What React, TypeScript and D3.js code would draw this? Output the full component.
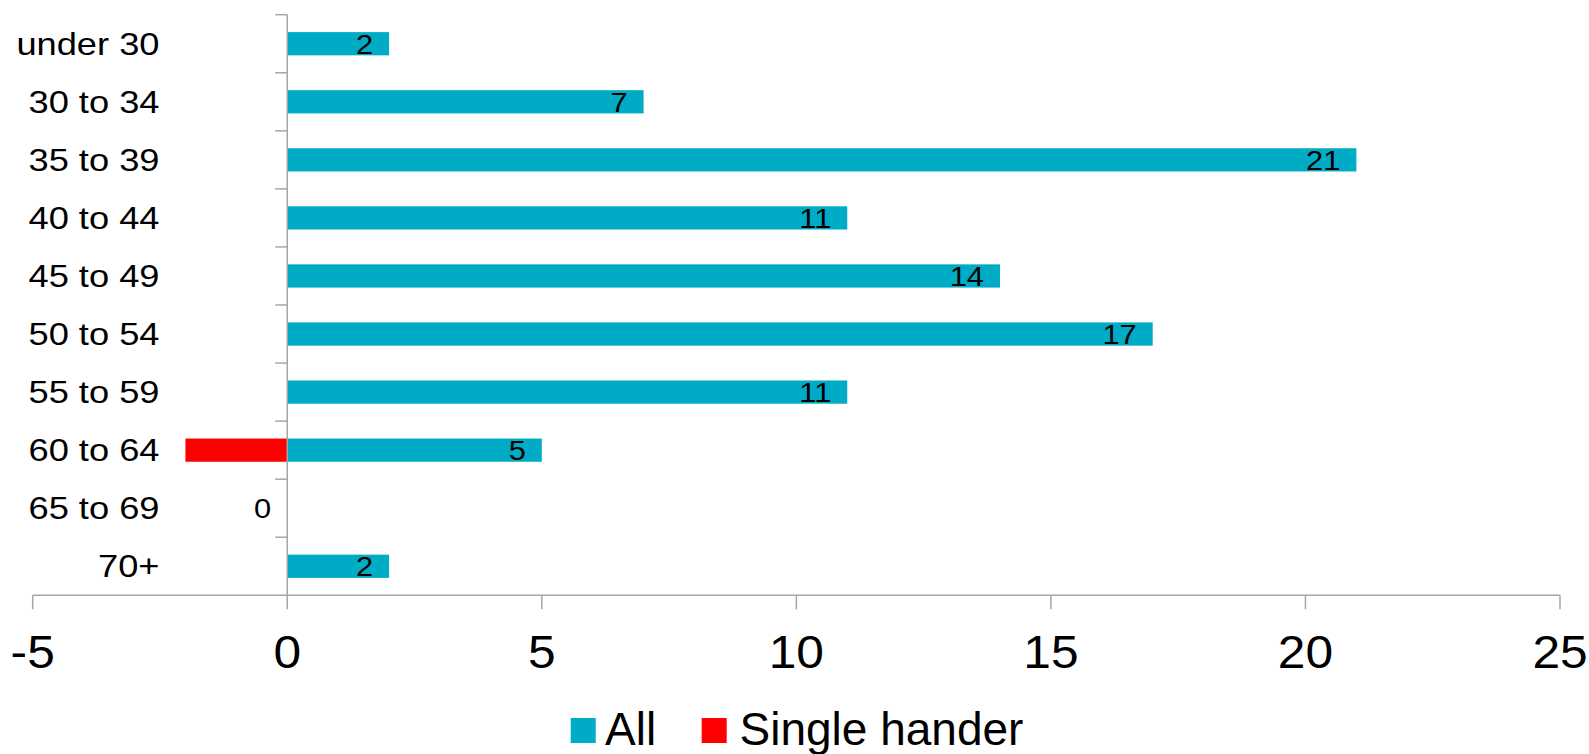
import { useEffect, useRef } from 'react'
import * as d3 from 'd3'

const CATEGORIES = ['under 30', '30 to 34', '35 to 39', '40 to 44', '45 to 49', '50 to 54', '55 to 59', '60 to 64', '65 to 69', '70+']
const ALL = [2, 7, 21, 11, 14, 17, 11, 5, 0, 2]
const SINGLE = [0, 0, 0, 0, 0, 0, 0, -2, 0, 0]
const X_TICKS = [-5, 0, 5, 10, 15, 20, 25]
const SERIES = [
  { name: 'All', color: '#00acc5' },
  { name: 'Single hander', color: '#ff0000' },
]

export default function App() {
  const svgRef = useRef<SVGSVGElement>(null)

  useEffect(() => {
    const svgEl = svgRef.current
    if (!svgEl) return
    const W = 1589
    const H = 754
    const font = 'Liberation Sans, Arial, sans-serif'
    const axisColor = '#a6a6a6'

    const svg = d3.select(svgEl).attr('viewBox', `0 0 ${W} ${H}`)
    svg.selectAll('*').remove()

    // text with a slight horizontal stretch, like the original export
    const label = (parent: d3.Selection<any, unknown, null, undefined>, tx: number, ty: number, txt: string,
      size: number, anchor: string, sx: number, dy = '0') =>
      parent.append('text').attr('transform', `translate(${tx},${ty}) scale(${sx},1)`)
        .attr('dy', dy).attr('text-anchor', anchor).attr('font-family', font)
        .attr('font-size', size).attr('fill', '#000').text(txt)

    const x = d3.scaleLinear().domain([-5, 25]).range([32.7, 1560])
    const y = d3.scaleBand<string>().domain(CATEGORIES).range([14.7, 595.3]).padding(0)
    const bw = y.bandwidth()
    const barH = bw * 0.4

    // bars: Single hander first, All on top (same row position)
    const drawSeries = (vals: number[], color: string) => {
      svg.append('g').selectAll('rect').data(vals.map((v, i) => ({ v, c: CATEGORIES[i] })))
        .join('rect')
        .filter((d) => d.v !== 0)
        .attr('x', (d) => x(Math.min(0, d.v)))
        .attr('width', (d) => Math.abs(x(d.v) - x(0)))
        .attr('y', (d) => (y(d.c) ?? 0) + (bw - barH) / 2)
        .attr('height', barH)
        .attr('fill', color)
    }
    drawSeries(SINGLE, SERIES[1].color)
    drawSeries(ALL, SERIES[0].color)

    // value axis (bottom)
    const x0 = x(0)
    const axisY = 595.3
    svg.append('line').attr('x1', x(-5)).attr('x2', x(25)).attr('y1', axisY).attr('y2', axisY)
      .attr('stroke', axisColor).attr('stroke-width', 1.5)
    X_TICKS.forEach((t) => {
      svg.append('line').attr('x1', x(t)).attr('x2', x(t)).attr('y1', axisY).attr('y2', axisY + 14)
        .attr('stroke', axisColor).attr('stroke-width', 1.5)
      label(svg, x(t), 668, String(t), 46, 'middle', 1.08)
    })

    // category axis at zero
    svg.append('line').attr('x1', x0).attr('x2', x0).attr('y1', 14.7).attr('y2', axisY)
      .attr('stroke', axisColor).attr('stroke-width', 1.5)
    CATEGORIES.forEach((c, i) => {
      const top = y(c) ?? 0
      svg.append('line').attr('x1', x0 - 12).attr('x2', x0).attr('y1', top).attr('y2', top)
        .attr('stroke', axisColor).attr('stroke-width', 1.5)
      label(svg, 159.5, top + bw / 2, c, 31, 'end', 1.17, '0.36em')
      // data label (inside end)
      label(svg, x(ALL[i]) - 16, top + bw / 2, String(ALL[i]), 28, 'end', 1.1, '0.36em')
    })

    // legend
    const lg = svg.append('g')
    const items = [{ x: 570.7, tx: 605 }, { x: 701.7, tx: 739.5 }]
    SERIES.forEach((s, i) => {
      lg.append('rect').attr('x', items[i].x).attr('y', 718).attr('width', 25).attr('height', 25).attr('fill', s.color)
      label(lg, items[i].tx, 745, s.name, 46, 'start', 1.0)
    })
  }, [])

  return (
    <div style={{ position: 'absolute', left: 0, top: 0, width: 1589, height: 754, background: '#fff' }}>
      <svg ref={svgRef} width={1589} height={754} style={{ display: 'block' }} />
    </div>
  )
}
